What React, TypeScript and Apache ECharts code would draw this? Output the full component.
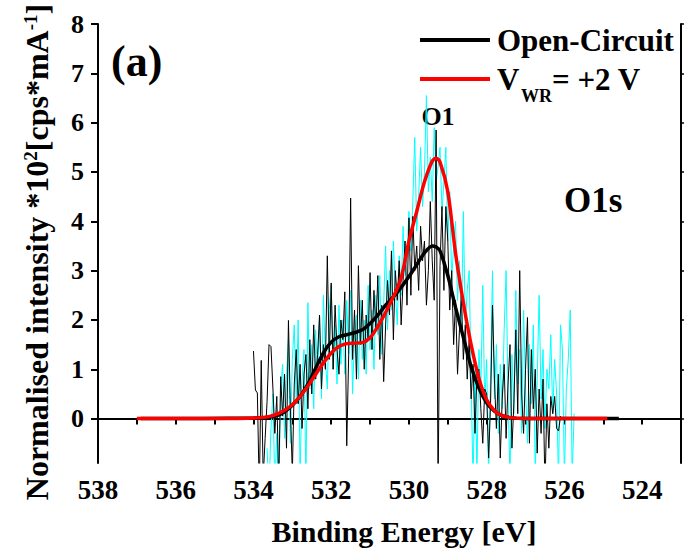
import React, { useEffect, useRef } from "react";
import * as echarts from "echarts";

// ---- Data ----
const xTicks = [538, 536, 534, 532, 530, 528, 526, 524];
const yTicks = [0, 1, 2, 3, 4, 5, 6, 7, 8];

// Raw spectra sampled every 0.05 eV, starting at the given binding energy (descending)
const rawStep = 0.05;
const ocStart = 534.0; // Open-Circuit raw
const ocRaw = [
  1.37, 0.58, 0.52, -1.5, 1.18, -1.2, -0.4, 0.35, 1.5, 1.46,
  0.62, -0.3, 0.45, -1.3, 0.85, 0.05, 0.9, -0.6, 1.99, 0.2,
  -1.1, 0.7, 1.4, 0.3, 1.1, -0.2, 0.9, 1.3, 0.2, 1.6,
  0.5, 1.9, 0.8, 1.3, 2.1, 0.6, 1.5, 1.0, 3.3, 1.2,
  2.75, 1.0, 2.3, 1.4, 0.9, 2.0, 1.6, 2.57, -0.55, 1.3,
  4.47, 1.2, 2.2, 0.8, 3.1, 1.5, 2.4, 1.0, 2.1, 1.6,
  2.96, 1.4, 2.6, 1.8, 2.9, 1.2, 2.3, 0.75, 1.9, 2.8,
  2.1, 3.4, 1.6, 3.0, 2.4, 3.2, 1.9, 2.8, 3.6, 2.3,
  4.07, 2.5, 4.1, 3.0, 3.5, 2.6, 3.9, 3.2, 3.6, 2.3,
  3.0, 4.4, 3.2, 2.4, 5.85, -1.5, 3.1, 4.3, 2.6, 4.3,
  3.6, 2.2, 3.0, 1.5, 2.4, 0.9, 1.8, 2.5, 1.2, 1.9,
  0.8, 1.6, 0.4, 1.1, -0.3, 0.9, 1.0, 0.2, -0.5, 0.6,
  0.5, -0.8, 0.3, 2.3, 0.8, -0.2, 0.9, -0.8, 0.4, 1.1,
  -0.4, 0.7, 1.5, -0.6, 0.3, 1.8, 0.1, 3.0, 0.5, -0.3,
  1.0, 2.05, -0.5, 1.4, 0.2, 1.0, -0.7, 0.6, -0.3, 0.8,
  -1.4, 0.3, -0.6, 0.45, 0.1, 0.45, -0.2, -0.25, 0.05,
];
const wrStart = 533.65; // V_WR = +2 V raw
const wrRaw = [
  -0.6, -1.5, -0.2, 0.5, -1.4, -0.3, -1.6, 0.6, 1.1, -0.4,
  0.9, 1.6, -0.5, 1.2, 1.9, 0.3, 2.0, -1.2, 0.8, 1.4,
  -1.3, 2.35, 0.6, 1.5, 0.2, 1.8, 0.9, 2.1, 0.4, 2.5,
  1.2, 0.6, 2.2, 2.7, 1.0, 1.9, 0.7, 2.3, 1.1, 2.0,
  0.9, 2.4, 1.3, 2.6, 0.5, 1.7, 2.1, 0.8, 2.4, 1.2,
  2.0, 0.9, 2.7, 1.4, 2.2, 1.0, 2.5, 1.7, 2.9, 1.3,
  2.3, 3.5, 1.8, 3.0, 2.2, 3.6, 2.6, 1.9, 3.3, 2.5,
  3.9, 2.9, 3.3, 4.2, 3.4, 4.4, 5.7, 3.8, 4.5, 5.5,
  4.3, 5.0, 6.55, 4.6, 5.3, 4.4, 5.9, 4.8, 5.1, 5.5,
  4.2, 4.8, 5.5, 3.6, 4.6, 2.8, 3.5, 4.0, 2.4, 3.2,
  1.8, 4.2, 1.9, 2.6, 3.0, 0.8, -1.3, 1.0, -1.1, 1.4,
  0.6, 2.7, 0.3, 1.2, -1.2, 0.9, 3.0, 0.4, 1.5, -0.3,
  1.1, 0.2, 1.8, 3.0, 0.5, -1.2, 1.3, 0.1, 2.6, 0.7,
  1.4, -0.3, 2.2, 0.6, -0.5, 1.5, 0.3, 1.9, -1.2, 0.8,
  2.5, 0.4, 1.4, -0.2, 1.0, 0.6, 1.7, 0.1, 1.2, 0.5,
  -1.3, 1.9, 1.4, -1.2, 0.6, 1.2, 2.2, -1.2, 0.1,
];

// Fitted envelopes
const ocFitE = [536.9, 534.0, 533.6, 533.4, 533.2, 533.0, 532.8, 532.6, 532.4, 532.2, 532.0, 531.8, 531.6, 531.4, 531.2, 531.0, 530.8, 530.6, 530.4, 530.2, 530.0, 529.8, 529.6, 529.4, 529.3, 529.2, 529.0, 528.8, 528.6, 528.4, 528.2, 528.0, 527.8, 527.6, 527.4, 527.0, 524.6];
const ocFitV = [0, 0.01, 0.03, 0.06, 0.14, 0.27, 0.45, 0.7, 1.02, 1.33, 1.55, 1.66, 1.7, 1.74, 1.8, 1.93, 2.1, 2.3, 2.47, 2.66, 2.88, 3.12, 3.36, 3.5, 3.48, 3.4, 2.9, 2.25, 1.65, 1.05, 0.62, 0.32, 0.15, 0.06, 0.02, 0, 0];
const wrFitE = [537.0, 534.5, 534.0, 533.8, 533.6, 533.4, 533.2, 533.0, 532.8, 532.6, 532.4, 532.2, 532.0, 531.8, 531.6, 531.4, 531.2, 531.0, 530.8, 530.6, 530.4, 530.2, 530.0, 529.8, 529.6, 529.4, 529.3, 529.2, 529.0, 528.8, 528.6, 528.4, 528.2, 528.0, 527.8, 527.6, 527.4, 527.0, 524.9];
const wrFitV = [0, 0, 0.01, 0.02, 0.04, 0.09, 0.17, 0.28, 0.45, 0.66, 0.9, 1.13, 1.33, 1.46, 1.52, 1.53, 1.54, 1.64, 1.87, 2.15, 2.47, 2.85, 3.6, 4.2, 4.8, 5.22, 5.28, 5.2, 4.6, 3.35, 2.35, 1.5, 0.82, 0.38, 0.16, 0.06, 0.02, 0, 0];

const FONT = "Liberation Serif, Times New Roman, serif";

export default function App() {
  const ref = useRef<HTMLDivElement>(null);
  useEffect(() => {
    if (!ref.current) return;
    const chart = echarts.init(ref.current, null, { renderer: "svg" });
    const ocData = ocRaw.map((v, i) => [+(ocStart - i * rawStep).toFixed(2), v]);
    const wrData = wrRaw.map((v, i) => [+(wrStart - i * rawStep).toFixed(2), v]);
    const ocFit = ocFitE.map((e, i) => [e, ocFitV[i]]);
    const wrFit = wrFitE.map((e, i) => [e, wrFitV[i]]);
    const txt = (text: string, x: number, y: number, size: number, align = "left") => ({
      type: "text",
      x,
      y,
      style: {
        text,
        fill: "#000",
        fontFamily: FONT,
        fontWeight: "bold",
        fontSize: size,
        align,
        verticalAlign: "middle",
      },
    });
    chart.setOption({
      animation: false,
      backgroundColor: "#fff",
      grid: { left: 98, right: 3, top: 24, bottom: 90 },
      xAxis: [
        {
          type: "value",
          inverse: true,
          min: 523,
          max: 538,
          interval: 1,
          position: "bottom",
          axisLine: { lineStyle: { color: "#000", width: 2 } },
          axisTick: { length: 6, lineStyle: { color: "#000", width: 2 } },
          axisLabel: {
            margin: 13,
            color: "#000",
            fontFamily: FONT,
            fontWeight: "bold",
            fontSize: 27,
            formatter: (v: number) => (xTicks.includes(v) ? String(v) : ""),
          },
          splitLine: { show: false },
        },
        {
          type: "value",
          inverse: true,
          min: 523,
          max: 538,
          interval: 1,
          position: "top",
          axisLine: { lineStyle: { color: "#000", width: 2 } },
          axisTick: { inside: true, length: 3, lineStyle: { color: "#000", width: 1.5 } },
          axisLabel: { show: false },
          splitLine: { show: false },
        },
      ],
      yAxis: [
        {
          type: "value",
          min: -0.9,
          max: 8,
          position: "left",
          axisLine: { lineStyle: { color: "#000", width: 2 } },
          axisTick: { length: 7, customValues: yTicks, lineStyle: { color: "#000", width: 2 } },
          axisLabel: {
            margin: 14,
            customValues: yTicks,
            color: "#000",
            fontFamily: FONT,
            fontWeight: "bold",
            fontSize: 26,
          },
          splitLine: { show: false },
        },
        {
          type: "value",
          min: -0.9,
          max: 8,
          position: "right",
          axisLine: { lineStyle: { color: "#000", width: 2 } },
          axisTick: { length: 4, customValues: yTicks, lineStyle: { color: "#000", width: 1.5 } },
          axisLabel: { show: false },
          splitLine: { show: false },
        },
      ],
      series: [
        {
          type: "line",
          name: "V_WR raw",
          data: wrData,
          showSymbol: false,
          lineStyle: { color: "#00FFFF", width: 1 },
          clip: true,
          z: 2,
        },
        {
          type: "line",
          name: "Open-Circuit raw",
          data: ocData,
          showSymbol: false,
          lineStyle: { color: "#000", width: 1 },
          clip: true,
          z: 3,
        },
        {
          type: "line",
          name: "Open-Circuit",
          data: ocFit,
          showSymbol: false,
          smooth: 0.3,
          lineStyle: { color: "#000", width: 3.5 },
          z: 4,
        },
        {
          type: "line",
          name: "V_WR = +2 V",
          data: wrFit,
          showSymbol: false,
          smooth: 0.3,
          lineStyle: { color: "#FF0000", width: 3.5 },
          z: 5,
        },
      ],
      graphic: [
        txt("(a)", 111, 61, 44),
        txt("O1", 438, 116, 26, "center"),
        txt("O1s", 564, 200, 35),
        { type: "line", shape: { x1: 420, y1: 40, x2: 490, y2: 40 }, style: { stroke: "#000", lineWidth: 4 } },
        txt("Open-Circuit", 497, 40, 31),
        { type: "line", shape: { x1: 420, y1: 79, x2: 490, y2: 79 }, style: { stroke: "#FF0000", lineWidth: 4 } },
        txt("V", 497, 79, 31),
        txt("WR", 521, 96, 18),
        txt("= +2 V", 552, 79, 31),
        txt("Binding Energy [eV]", 404, 531, 30, "center"),
        {
          type: "text",
          x: 37,
          y: 252,
          rotation: Math.PI / 2,
          style: {
            text: "{a|Normalised intensity *10}{s|2}{a|[cps*mA}{s|-1}{a|]}",
            align: "center",
            verticalAlign: "middle",
            fill: "#000",
            rich: {
              a: { fontFamily: FONT, fontWeight: "bold", fontSize: 32, fill: "#000" },
              s: { fontFamily: FONT, fontWeight: "bold", fontSize: 19, fill: "#000", verticalAlign: "top" },
            },
          },
        },
      ],
    });
    return () => chart.dispose();
  }, []);
  return (
    <div
      ref={ref}
      style={{ position: "fixed", left: 0, top: 0, width: 684, height: 553, background: "#fff" }}
    />
  );
}
